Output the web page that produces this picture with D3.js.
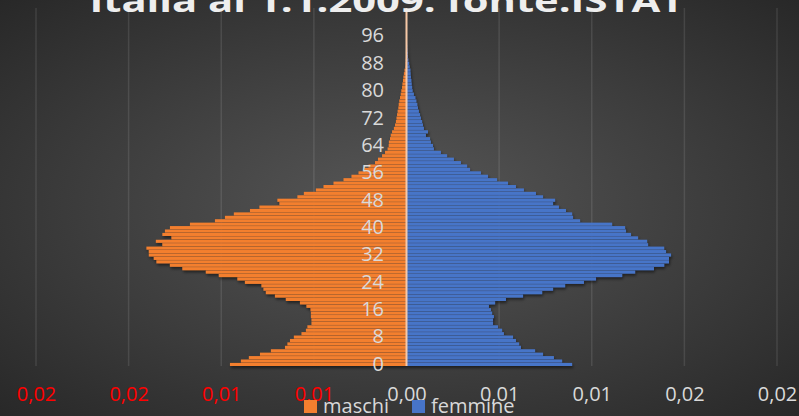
<!DOCTYPE html>
<html>
<head>
<meta charset="utf-8">
<script src="https://cdn.jsdelivr.net/npm/d3@7"></script>
<style>
body { margin: 0; background: #2b2b2b; }
svg { display: block; font-family: "Open Sans", sans-serif; }
</style>
</head>
<body>
<svg id="chart"></svg>
<script>
/////////////////////////////////////////////////
///////////////////Data//////////////////////////
/////////////////////////////////////////////////

var ages = [0, 1, 2, 3, 4, 5, 6, 7, 8, 9, 10, 11, 12, 13, 14, 15, 16, 17, 18, 19,
  20, 21, 22, 23, 24, 25, 26, 27, 28, 29, 30, 31, 32, 33, 34, 35, 36, 37, 38, 39,
  40, 41, 42, 43, 44, 45, 46, 47, 48, 49, 50, 51, 52, 53, 54, 55, 56, 57, 58, 59,
  60, 61, 62, 63, 64, 65, 66, 67, 68, 69, 70, 71, 72, 73, 74, 75, 76, 77, 78, 79,
  80, 81, 82, 83, 84, 85, 86, 87, 88, 89, 90, 91, 92, 93, 94, 95, 96, 97, 98, 99, 100];

var maschi = [
  0.00953, 0.00894, 0.00851, 0.00791, 0.00732, 0.00656, 0.00643, 0.00629, 0.00608, 0.00567,
  0.00543, 0.00535, 0.00513, 0.00513, 0.00516, 0.00516, 0.00518, 0.00540, 0.00575, 0.00651,
  0.00710, 0.00759, 0.00772, 0.00783, 0.00872, 0.00913, 0.01013, 0.01083, 0.01210, 0.01277,
  0.01350, 0.01364, 0.01391, 0.01391, 0.01404, 0.01318, 0.01353, 0.01269, 0.01318, 0.01304,
  0.01277, 0.01169, 0.01034, 0.00980, 0.00932, 0.00845, 0.00794, 0.00686, 0.00697, 0.00589,
  0.00554, 0.00489, 0.00448, 0.00394, 0.00340, 0.00297, 0.00259, 0.00224, 0.00205, 0.00170,
  0.00154, 0.00132, 0.00116, 0.00102, 0.00096, 0.00095, 0.00089, 0.00085, 0.00078, 0.00068,
  0.00062, 0.00057, 0.00054, 0.00051, 0.00048, 0.00044, 0.00042, 0.00039, 0.00035, 0.00031,
  0.00028, 0.00024, 0.00022, 0.00019, 0.00017, 0.00014, 0.00011, 0.00006, 0.00005, 0.00004,
  0.00003, 0.00003, 0.00002, 0.00002, 0.00001, 0.00001, 0.00001, 0.00001, 0.00000, 0.00000, 0.00000
];

var femmine = [
  0.00894, 0.00840, 0.00796, 0.00737, 0.00694, 0.00618, 0.00608, 0.00591, 0.00575, 0.00526,
  0.00516, 0.00494, 0.00467, 0.00467, 0.00472, 0.00462, 0.00456, 0.00445, 0.00478, 0.00537,
  0.00629, 0.00732, 0.00791, 0.00856, 0.00958, 0.01023, 0.01164, 0.01234, 0.01336, 0.01391,
  0.01417, 0.01417, 0.01428, 0.01401, 0.01391, 0.01304, 0.01299, 0.01250, 0.01212, 0.01185,
  0.01180, 0.01110, 0.00937, 0.00899, 0.00894, 0.00861, 0.00823, 0.00791, 0.00802, 0.00737,
  0.00699, 0.00634, 0.00591, 0.00548, 0.00489, 0.00440, 0.00402, 0.00343, 0.00327, 0.00294,
  0.00256, 0.00219, 0.00186, 0.00148, 0.00143, 0.00132, 0.00127, 0.00105, 0.00116, 0.00094,
  0.00089, 0.00084, 0.00078, 0.00073, 0.00067, 0.00062, 0.00058, 0.00053, 0.00048, 0.00040,
  0.00033, 0.00030, 0.00028, 0.00026, 0.00024, 0.00022, 0.00021, 0.00017, 0.00014, 0.00010,
  0.00008, 0.00007, 0.00005, 0.00004, 0.00003, 0.00002, 0.00002, 0.00001, 0.00001, 0.00001, 0.00001
];

var ageTicks = [0, 8, 16, 24, 32, 40, 48, 56, 64, 72, 80, 88, 96];
var xTicks = [-0.02, -0.015, -0.01, -0.005, 0, 0.005, 0.01, 0.015, 0.02];
var xTickLabels = ["0,02", "0,02", "0,01", "0,01", "0,00", "0,01", "0,01", "0,02", "0,02"];
var title = "Italia al 1.1.2009: fonte:ISTAT";
var legendNames = ["maschi", "femmine"];
var colors = ["#f37f2f", "#4774c8"];

/////////////////////////////////////////////////
///////////////////Chart/////////////////////////
/////////////////////////////////////////////////

var svgWidth = 799, svgHeight = 416;

var svg = d3.select("#chart")
.attr("width", svgWidth)
.attr("height", svgHeight);

var defs = svg.append("defs");

var bg = defs.append("radialGradient")
.attr("id", "bg")
.attr("cx", "50%").attr("cy", "50%").attr("r", "72%");
bg.append("stop").attr("offset", "0%").attr("stop-color", "#575757");
bg.append("stop").attr("offset", "100%").attr("stop-color", "#272727");

var shadow = defs.append("filter")
.attr("id", "shadow")
.attr("x", "-5%").attr("y", "-5%").attr("width", "110%").attr("height", "110%");
shadow.append("feDropShadow")
.attr("dx", 1).attr("dy", 2)
.attr("stdDeviation", 1.5)
.attr("flood-color", "#000")
.attr("flood-opacity", 0.55);

svg.append("rect")
.attr("width", svgWidth)
.attr("height", svgHeight)
.attr("fill", "url(#bg)");

var x = d3.scaleLinear()
.domain([-0.02, 0.02])
.range([36, 777]);

var y = d3.scaleBand()
.domain(ages)
.range([366, 20.8])
.paddingInner(0.1);

// gridlines
svg.append("g")
.selectAll("line")
.data(xTicks)
.enter()
.append("line")
.attr("x1", function (d) { return x(d); })
.attr("x2", function (d) { return x(d); })
.attr("y1", 8)
.attr("y2", 366)
.attr("stroke", "rgba(255,255,255,0.1)")
.attr("stroke-width", 1.5);

// bars
var bars = svg.append("g").attr("filter", "url(#shadow)");

bars.selectAll(".m")
.data(maschi)
.enter()
.append("rect")
.attr("class", "m")
.attr("x", function (d) { return x(-d); })
.attr("width", function (d) { return x(0) - x(-d); })
.attr("y", function (d, i) { return y(ages[i]); })
.attr("height", y.bandwidth())
.attr("fill", colors[0]);

bars.selectAll(".f")
.data(femmine)
.enter()
.append("rect")
.attr("class", "f")
.attr("x", x(0))
.attr("width", function (d) { return x(d) - x(0); })
.attr("y", function (d, i) { return y(ages[i]); })
.attr("height", y.bandwidth())
.attr("fill", colors[1]);

// zero axis line
svg.append("line")
.attr("x1", x(0)).attr("x2", x(0))
.attr("y1", 8).attr("y2", 366)
.attr("stroke", "#f6c8a6")
.attr("stroke-width", 2);

// age labels
var yAxis = d3.axisLeft(y)
.tickValues(ageTicks)
.tickSize(0)
.tickPadding(0);

var gy = svg.append("g")
.attr("transform", "translate(384,0)")
.call(yAxis);
gy.select(".domain").remove();
gy.attr("font-family", null).attr("font-size", null);
gy.selectAll("text")
.attr("fill", "#d9d9d9")
.style("font-size", "20px");

// value labels
var xAxis = d3.axisBottom(x)
.tickValues(xTicks)
.tickSize(0)
.tickFormat(function (d, i) { return xTickLabels[i]; });

var gx = svg.append("g")
.attr("transform", "translate(0,384)")
.call(xAxis);
gx.select(".domain").remove();
gx.attr("font-family", null).attr("font-size", null);
gx.selectAll("text")
.attr("fill", function (d) { return d < 0 ? "#ff0000" : "#d9d9d9"; })
.style("font-size", "20px");

// title
svg.append("text")
.attr("x", 387)
.attr("y", 12)
.attr("text-anchor", "middle")
.attr("fill", "#eeeeee")
.attr("textLength", 595)
.attr("lengthAdjust", "spacingAndGlyphs")
.style("font-size", "30px")
.style("font-weight", "bold")
.text(title);

// legend
var legendX = [304, 412];
var legend = svg.append("g")
.selectAll("g")
.data(legendNames)
.enter()
.append("g")
.attr("transform", function (d, i) { return "translate(" + legendX[i] + ",400)"; });

legend.append("rect")
.attr("width", 13)
.attr("height", 13)
.attr("fill", function (d, i) { return colors[i]; });

legend.append("text")
.attr("x", 19)
.attr("y", 13)
.attr("fill", "#d9d9d9")
.style("font-size", "20px")
.text(function (d) { return d; });
</script>
</body>
</html>
